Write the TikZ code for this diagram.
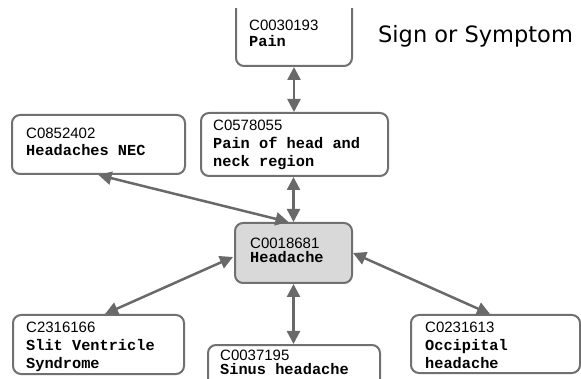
\documentclass[tikz,border=0pt]{standalone}
\usepackage{fontspec}
\setmainfont{Liberation Sans}
\newfontfamily\termfont{Liberation Mono}
\newfontfamily\labelfont{DejaVu Sans}
\usetikzlibrary{arrows.meta,calc}
\definecolor{linegray}{RGB}{105,105,105}
\definecolor{boxgray}{RGB}{112,112,112}
\definecolor{fillgray}{RGB}{217,217,217}
\begin{document}
\begin{tikzpicture}[x=1pt,y=-1pt,
  box/.style={draw=boxgray, fill=white, line width=2pt, rounded corners=8pt, inner sep=0pt},
  code/.style={anchor=base west, inner sep=0pt, font=\fontsize{15}{18}\selectfont},
  term/.style={anchor=base west, inner sep=0pt, font=\termfont\bfseries\fontsize{15.3}{18}\selectfont},
  link/.style={draw=linegray, line width=2.5pt, {Triangle[length=13pt,width=13pt]}-{Triangle[length=13pt,width=13pt]}}]
\useasboundingbox (0,0) rectangle (581,379);
\begin{scope}
\clip (0,9) rectangle (581,379);
% boxes
\node[box, minimum width=116pt, minimum height=71pt] (pain) at (294,30.5) {};
\node[box, minimum width=173pt, minimum height=59pt] (nec) at (98.5,144.5) {};
\node[box, minimum width=187pt, minimum height=63pt] (pnh) at (294.5,144.5) {};
\node[box, fill=fillgray, minimum width=117pt, minimum height=60pt] (head) at (293.5,253) {};
\node[box, minimum width=171pt, minimum height=59pt] (slit) at (98.5,344.5) {};
\node[box, minimum width=169pt, minimum height=58pt] (occ) at (495.5,344) {};
\node[box, minimum width=172pt, minimum height=50pt] (sinus) at (294,370) {};
% connectors
\draw[link] (pain.south) -- (pain.south |- pnh.north);
\draw[link] (nec.south) -- ($(head.north)+(-5,0)$);
\draw[link] (pnh.south -| head.north) -- (head.north);
\draw[link] ($(head.west)+(-1,4)$) -- ($(slit.north)+(6.5,0)$);
\draw[link] (head.east) -- ($(occ.north)+(-5.5,0)$);
\draw[link] (head.south) -- (head.south |- sinus.north);
\end{scope}
% texts
\node[code] (painC) at (249,31) {C0030193};
\node[term] (painN) at (249,47) {Pain};
\node[code] (necC) at (26,139) {C0852402};
\node[term] (necN) at (26,156) {Headaches NEC};
\node[code] (pnhC) at (213,131) {C0578055};
\node[term] (pnhN1) at (213,149) {Pain of head and};
\node[term] (pnhN2) at (213,167) {neck region};
\node[code] (headC) at (250,249) {C0018681};
\node[term] (headN) at (250,263) {Headache};
\node[code] (slitC) at (26,332) {C2316166};
\node[term] (slitN1) at (26,350) {Slit Ventricle};
\node[term] (slitN2) at (26,368) {Syndrome};
\node[code] (occC) at (425,332) {C0231613};
\node[term] (occN1) at (425,350) {Occipital};
\node[term] (occN2) at (425,368) {headache};
\node[code] (sinusC) at (220,360) {C0037195};
\node[term] (sinusN) at (220,374) {Sinus headache};
\node[anchor=base west, inner sep=0pt, font=\labelfont\fontsize{22.5}{26}\selectfont] (sos) at (378,43) {Sign or Symptom};
\end{tikzpicture}
\end{document}
